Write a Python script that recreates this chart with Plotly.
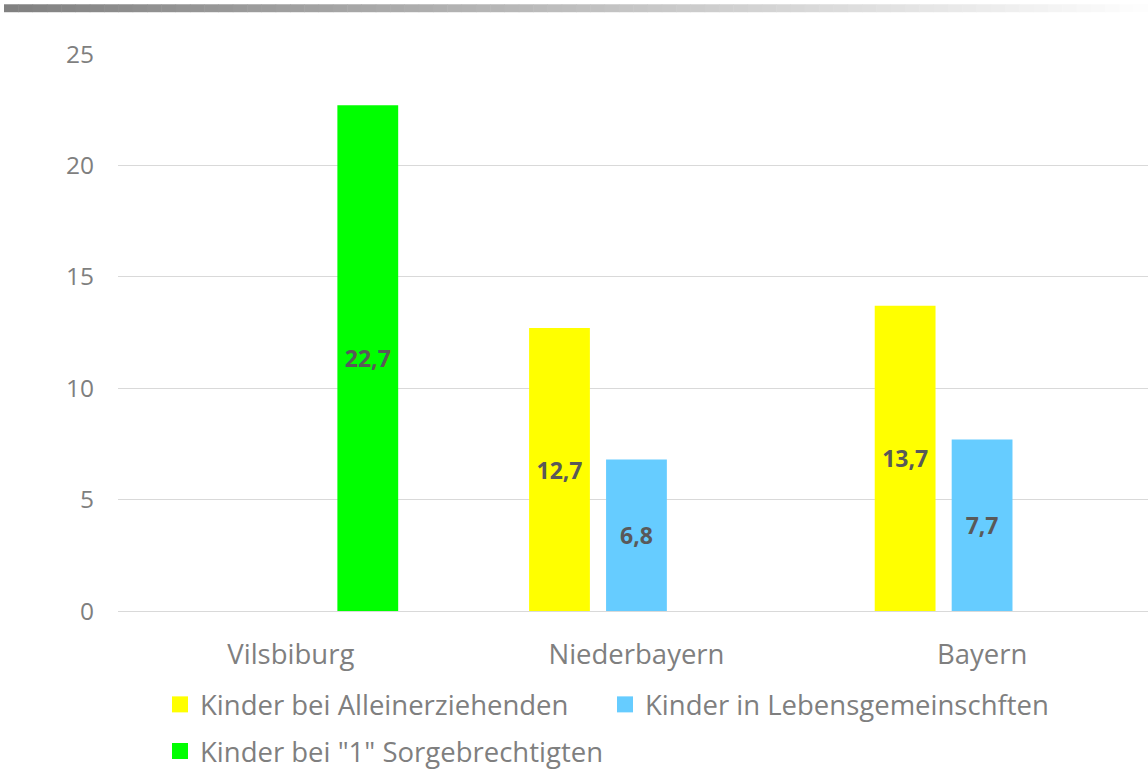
import plotly.graph_objects as go

categories = ["Vilsbiburg", "Niederbayern", "Bayern"]
allein = [None, 12.7, 13.7]
lebens = [None, 6.8, 7.7]
sorge = [22.7, None, None]
series_names = ["Kinder bei Alleinerziehenden", "Kinder in Lebensgemeinschften", 'Kinder bei "1" Sorgebrechtigten']
series_values = [allein, lebens, sorge]
colors = ["#FFFF00", "#66CCFF", "#00FF00"]
y_ticks = [0, 5, 10, 15, 20, 25]

FONT = "Open Sans"
W, H = 1148, 776
L, R, T, B = 118, 0, 54, 162
pw = W - L - R
ph = H - T - B

def fmt(v):
    return "" if v is None else f"{v:.1f}".replace(".", ",")

fig = go.Figure()
for name, vals, col in zip(series_names, series_values, colors):
    fig.add_trace(go.Bar(
        x=categories, y=vals, name=name, marker=dict(color=col, line=dict(width=0)),
        text=[fmt(v) for v in vals], textposition="inside", insidetextanchor="middle",
        textfont=dict(family=FONT, size=23, color="#595959", weight="bold"),
        showlegend=False, hoverinfo="skip", cliponaxis=False,
    ))

# legend entries
for i, (name, col) in enumerate(zip(series_names, colors)):
    fig.add_trace(go.Scatter(
        x=[None], y=[None], mode="markers", name=name,
        marker=dict(symbol="square", size=17, color=col),
        legend="legend" if i < 2 else "legend2",
    ))

# gradient bar on top
n = 80
x0p, x1p = 4, 1148
for k in range(n):
    a = x0p + (x1p - x0p) * k / n
    b = x0p + (x1p - x0p) * (k + 1) / n
    t = (k + 0.5) / n
    c = int(round(128 + (254 - 128) * t))
    fig.add_shape(type="rect", xref="paper", yref="paper",
                  x0=(a - L) / pw, x1=(b - L) / pw + 0.0005,
                  y0=(H - B - 12) / ph, y1=(H - B - 4) / ph,
                  fillcolor=f"rgb({c},{c},{c})", line=dict(width=0), layer="above")

fig.update_layout(
    width=W, height=H,
    margin=dict(l=L, r=R, t=T, b=B, pad=0),
    paper_bgcolor="white", plot_bgcolor="white",
    barmode="group", bargap=0.332, bargroupgap=0.21,
    separators=",.",
    font=dict(family=FONT, color="#7f7f7f"),
    xaxis=dict(range=[-0.5, 2.48], tickfont=dict(size=27.5, color="#7f7f7f"),
               ticks="outside", ticklen=19, tickcolor="rgba(0,0,0,0)",
               showgrid=False, zeroline=False, showline=False),
    yaxis=dict(range=[0, 25], tickvals=y_ticks, tickfont=dict(size=24.5, color="#7f7f7f"),
               ticks="outside", ticklen=18, tickcolor="rgba(0,0,0,0)",
               gridcolor="#d9d9d9", gridwidth=1,
               zeroline=True, zerolinecolor="#d9d9d9", zerolinewidth=1, showline=False),
    legend=dict(orientation="h", x=(160 - L) / pw, xanchor="left", y=(H - B - 708) / ph, yanchor="middle",
                font=dict(size=27.5, color="#7f7f7f"), entrywidth=400, entrywidthmode="pixels",
                bgcolor="rgba(0,0,0,0)", itemclick=False),
    legend2=dict(orientation="h", x=(160 - L) / pw, xanchor="left", y=(H - B - 755) / ph, yanchor="middle",
                 font=dict(size=27.5, color="#7f7f7f"), bgcolor="rgba(0,0,0,0)", itemclick=False),
)

fig.write_html("out.html", config={"displayModeBar": False},
               post_script="document.body.style.margin='0';document.body.style.padding='0';")
